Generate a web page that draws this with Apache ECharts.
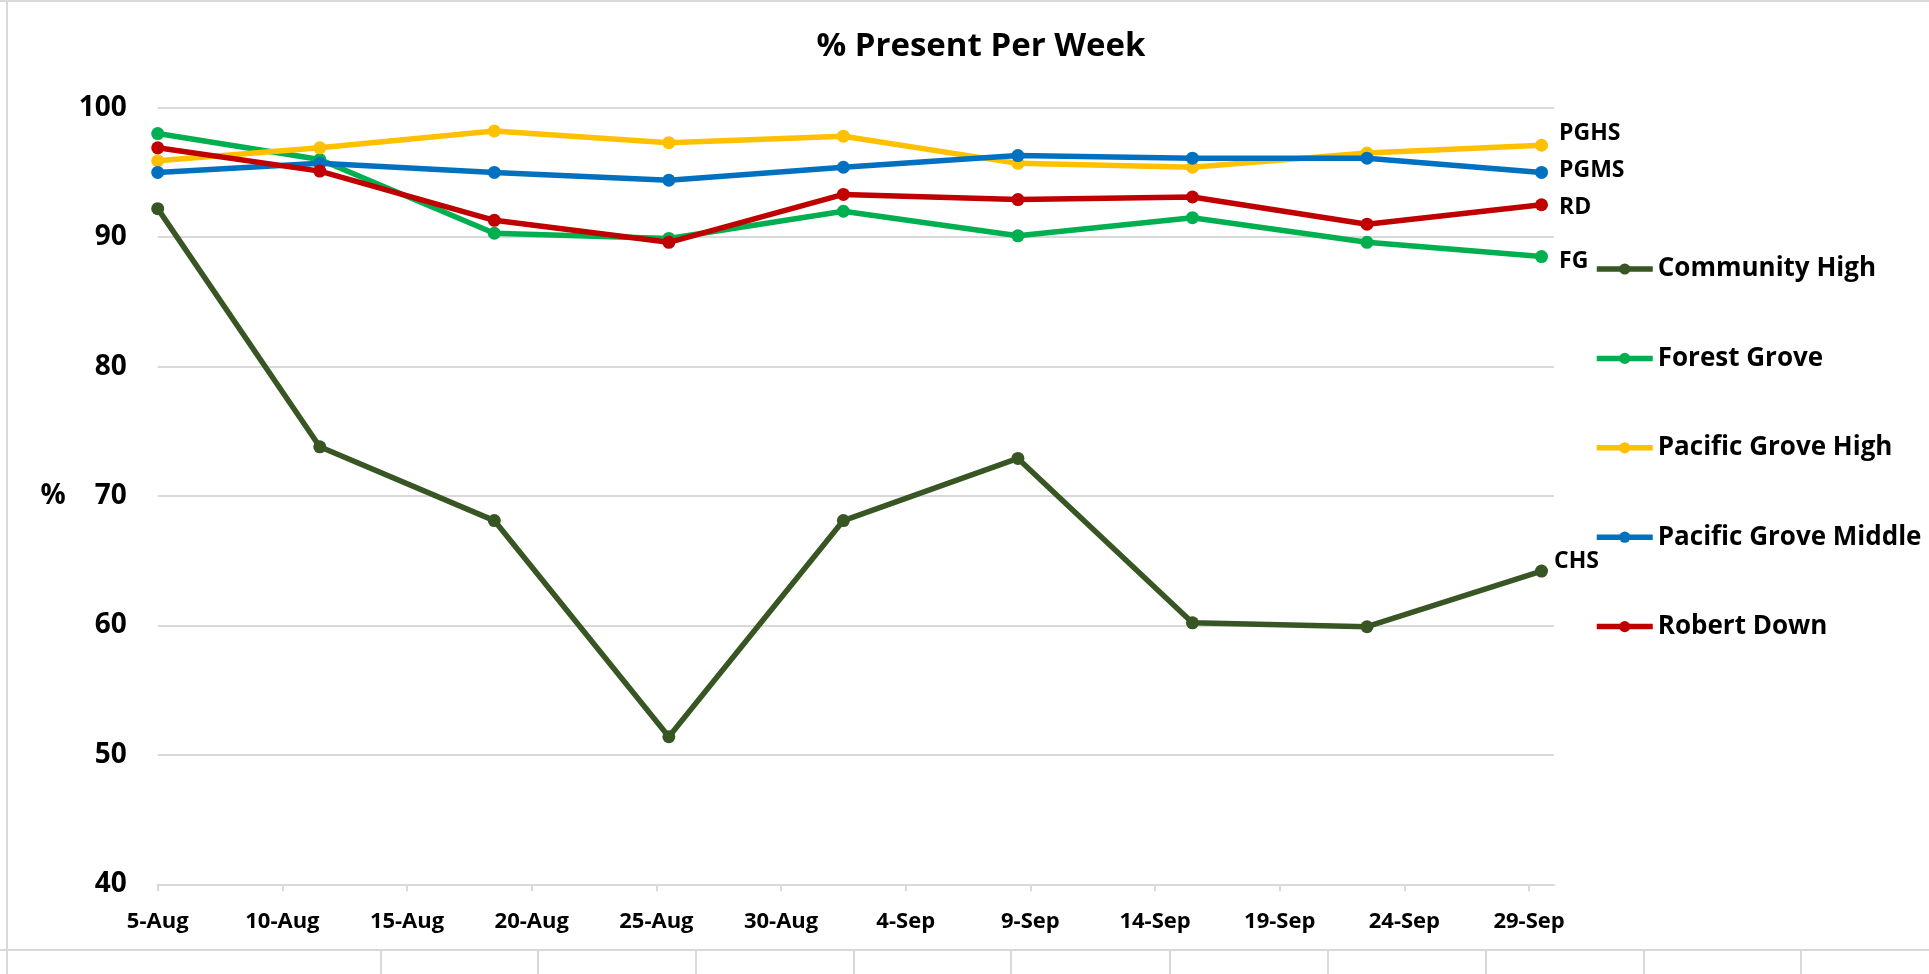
<!DOCTYPE html>
<html>
<head>
<meta charset="utf-8">
<script src="https://cdn.jsdelivr.net/npm/echarts@6/dist/echarts.min.js"></script>
<style>
  html, body { margin: 0; padding: 0; background: #fff; }
  #chart { width: 1929px; height: 974px; }
</style>
</head>
<body>
<div id="chart"></div>
<script>
// ---- Data ----
const xTickLabels = ['5-Aug','10-Aug','15-Aug','20-Aug','25-Aug','30-Aug','4-Sep','9-Sep','14-Sep','19-Sep','24-Sep','29-Sep'];
// week positions, in days after 5-Aug
const weekDays = [0, 6.5, 13.5, 20.5, 27.5, 34.5, 41.5, 48.5, 55.5];
const seriesNames = ['Community High','Forest Grove','Pacific Grove High','Pacific Grove Middle','Robert Down'];
const shortNames = ['CHS','FG','PGHS','PGMS','RD'];
const communityHigh      = [92.2, 73.8, 68.1, 51.4, 68.1, 72.9, 60.2, 59.9, 64.2];
const forestGrove        = [98.0, 96.0, 90.3, 89.9, 92.0, 90.1, 91.5, 89.6, 88.5];
const pacificGroveHigh   = [95.9, 96.9, 98.2, 97.3, 97.8, 95.7, 95.4, 96.5, 97.1];
const pacificGroveMiddle = [95.0, 95.7, 95.0, 94.4, 95.4, 96.3, 96.1, 96.1, 95.0];
const robertDown         = [96.9, 95.1, 91.3, 89.6, 93.3, 92.9, 93.1, 91.0, 92.5];

const seriesValues = [communityHigh, forestGrove, pacificGroveHigh, pacificGroveMiddle, robertDown];
const colors = ['#375623', '#00B050', '#FFC000', '#0070C0', '#C00000'];
const labelOffsets = [[-5, -10], [0, 5], [0, -12], [0, -2], [0, 3]];

const FONT = "'Open Sans', 'Noto Sans', sans-serif";
const tickVals = xTickLabels.map((_, i) => i * 5);

const series = seriesNames.map((name, s) => ({
  name: name,
  type: 'line',
  data: seriesValues[s].map((v, i) => {
    const item = { value: [weekDays[i], v] };
    if (i === seriesValues[s].length - 1) {
      item.label = {
        show: true, position: 'right', distance: 11,
        offset: labelOffsets[s],
        formatter: shortNames[s],
        fontSize: 23, fontWeight: 'bold', color: '#000', fontFamily: FONT
      };
    }
    return item;
  }),
  color: colors[s],
  lineStyle: { width: 5.5, color: colors[s] },
  itemStyle: { color: colors[s] },
  symbol: 'circle',
  symbolSize: 13,
  label: { show: false },
  z: 2 + s
}));

const sheetLineX = [381, 538, 696, 854, 1011, 1170, 1328, 1486, 1644, 1801];
const lineStyle = { stroke: '#d9d9d9', lineWidth: 2 };
const graphics = [
  { type: 'line', shape: { x1: 0, y1: 1, x2: 1929, y2: 1 }, style: lineStyle, silent: true },
  { type: 'line', shape: { x1: 7, y1: 0, x2: 7, y2: 974 }, style: lineStyle, silent: true },
  { type: 'line', shape: { x1: 0, y1: 950, x2: 1929, y2: 950 }, style: lineStyle, silent: true }
].concat(sheetLineX.map(x => ({ type: 'line', shape: { x1: x, y1: 950, x2: x, y2: 974 }, style: lineStyle, silent: true })));

const option = {
  animation: false,
  backgroundColor: '#ffffff',
  textStyle: { fontFamily: FONT },
  title: {
    text: '% Present Per Week',
    left: 981, top: 30, padding: 0, textAlign: 'center',
    textStyle: { fontSize: 33, fontWeight: 'bold', color: '#000', fontFamily: FONT }
  },
  grid: { left: 157.7, right: 375, top: 107.7, bottom: 89.7 },
  legend: {
    orient: 'vertical',
    left: 1594, top: 254, padding: 0,
    itemWidth: 56, itemHeight: 14, itemGap: 59.4,
    data: seriesNames,
    lineStyle: { width: 5.5 },
    textStyle: { fontSize: 26, fontWeight: 'bold', color: '#000', lineHeight: 30, fontFamily: FONT }
  },
  xAxis: {
    type: 'value', min: 0, max: 56, interval: 5,
    axisLine: { show: true, lineStyle: { color: '#d9d9d9', width: 2 } },
    axisTick: { show: true, length: 7, customValues: tickVals, lineStyle: { color: '#d9d9d9', width: 2 } },
    axisLabel: {
      customValues: tickVals,
      formatter: v => xTickLabels[Math.round(v / 5)] || '',
      margin: 26, fontSize: 22, fontWeight: 'bold', color: '#000', fontFamily: FONT
    },
    splitLine: { show: false }
  },
  yAxis: {
    type: 'value', min: 40, max: 100, interval: 10,
    name: '%', nameLocation: 'middle', nameRotate: 0, nameGap: 92,
    nameTextStyle: { fontSize: 28, fontWeight: 'bold', color: '#000', fontFamily: FONT },
    axisLine: { show: false },
    axisTick: { show: false },
    axisLabel: { margin: 31, fontSize: 28, fontWeight: 'bold', color: '#000', fontFamily: FONT },
    splitLine: { lineStyle: { color: '#d9d9d9', width: 2 } }
  },
  graphic: graphics,
  series: series
};

const chart = echarts.init(document.getElementById('chart'), null, { renderer: 'canvas' });
chart.setOption(option);
</script>
</body>
</html>
